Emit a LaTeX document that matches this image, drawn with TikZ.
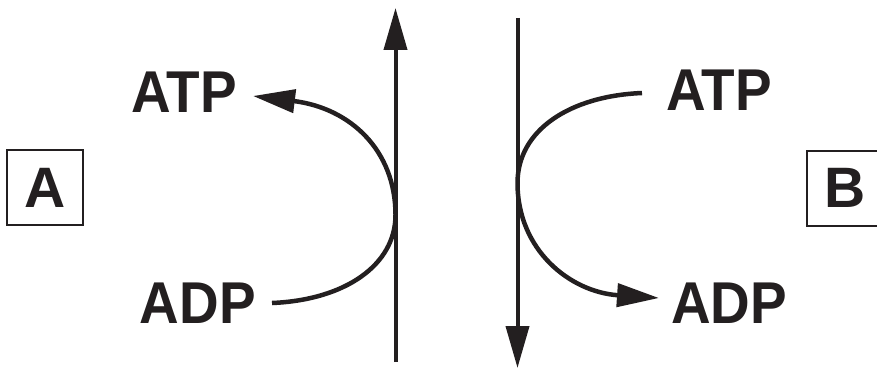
\documentclass[tikz,border=0pt]{standalone}
\usepackage{fontspec}
\setmainfont{Liberation Sans}
\usetikzlibrary{arrows.meta}
\definecolor{ink}{HTML}{231F20}
\begin{document}
\begin{tikzpicture}[x=1pt,y=-1pt,
  lbl/.style={text=ink, font=\fontsize{59}{60}\selectfont\bfseries, inner sep=0pt, xscale=0.93},
  boxl/.style={draw=ink, text=ink, line width=2pt, minimum width=76pt, minimum height=75pt, inner sep=0pt, font=\fontsize{57}{58}\selectfont\bfseries},
  axis/.style={draw=ink, line width=4pt, -{Triangle[length=42pt,width=23pt,fill=ink]}},
  flow/.style={draw=ink, line width=4.5pt, -{Triangle[length=42pt,width=23pt,fill=ink]}}]
\useasboundingbox (0,0) rectangle (877,369);
% boxes
\node[boxl] (A) at (45,187.5) {A};
\node[boxl] (B) at (845,188) {B};
% labels
\node[lbl, anchor=south east] (ATPl) at (237,113) {ATP};
\node[lbl, anchor=south east] (ADPl) at (256,324) {ADP};
\node[lbl, anchor=south west] (ATPr) at (666,111) {ATP};
\node[lbl, anchor=south west] (ADPr) at (671,324) {ADP};
% axis lines
\coordinate (L0) at (395.5,362);
\coordinate (L1) at (395.5,8);
\coordinate (R0) at (517.5,18);
\coordinate (R1) at (517.5,368);
\draw[axis] (L0) -- (L1);
\draw[axis] (R0) -- (R1);
% curved connectors
\coordinate (ls) at (272,303);
\coordinate (lm) at (395.5,215);
\coordinate (le) at (253,96);
\coordinate (rs) at (642,93);
\coordinate (rm) at (517.5,183);
\coordinate (re) at (659,298);
\draw[flow] (ls) .. controls (345,300) and (395.5,265) .. (lm)
  .. controls (395.5,150) and (350,108) .. (le);
\draw[flow] (rs) .. controls (570,96) and (517.5,130) .. (rm)
  .. controls (517.5,250) and (570,292) .. (re);
\end{tikzpicture}
\end{document}
